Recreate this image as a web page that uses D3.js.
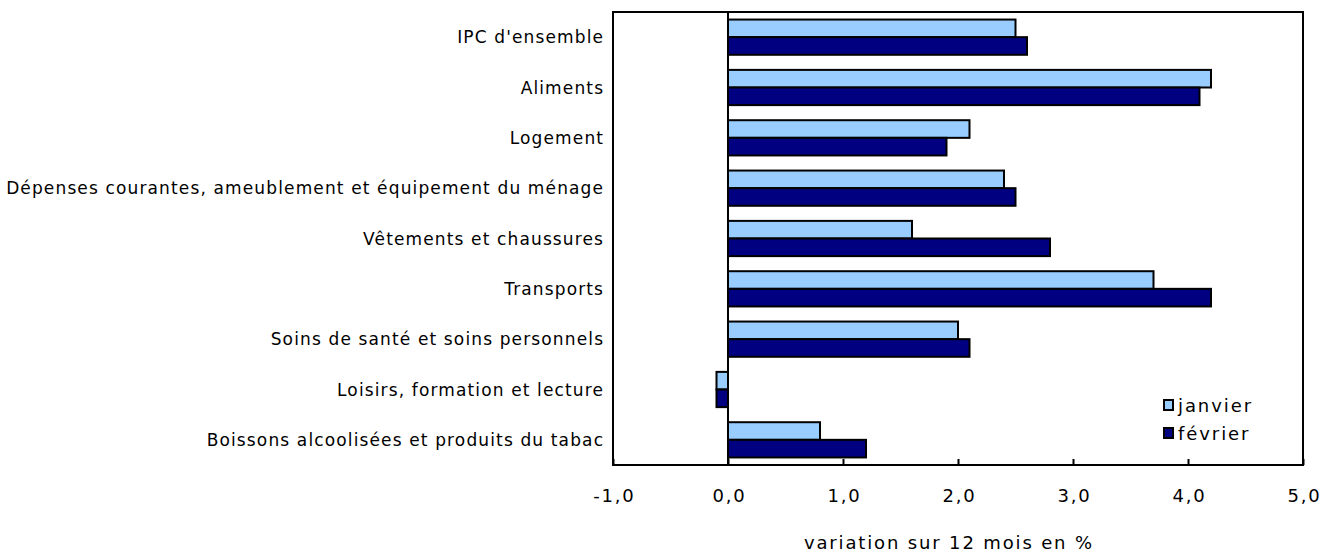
<!DOCTYPE html>
<html><head><meta charset="utf-8">
<script src="https://cdn.jsdelivr.net/npm/d3@7"></script>
<style>body{margin:0;background:#fff}svg{display:block}</style>
</head><body>
<script>
const categories = ["IPC d'ensemble","Aliments","Logement","Dépenses courantes, ameublement et équipement du ménage","Vêtements et chaussures","Transports","Soins de santé et soins personnels","Loisirs, formation et lecture","Boissons alcoolisées et produits du tabac"];
const janvier = [2.5,4.2,2.1,2.4,1.6,3.7,2.0,-0.1,0.8];
const fevrier = [2.6,4.1,1.9,2.5,2.8,4.2,2.1,-0.1,1.2];
const seriesNames = ["janvier","février"];
const xTicks = [-1,0,1,2,3,4,5];
const xTitle = "variation sur 12 mois en %";

const W=1322,H=552;
const m={l:613,t:12,r:1303,b:465};
const font="DejaVu Sans, Verdana, sans-serif";
const svg=d3.select("body").append("svg").attr("width",W).attr("height",H);
const x=d3.scaleLinear().domain([-1,5]).range([m.l,m.r]);
const y=d3.scaleBand().domain(categories).range([m.t,m.b]).paddingInner(0.3).paddingOuter(0.15);
const ys=d3.scaleBand().domain(seriesNames).range([0,y.bandwidth()]);
const colors=["#99CCFF","#000080"];
const data=[janvier,fevrier];

// letter-spacing to fit a text to a target width
function fitSpacing(str,size,target){
  const t=svg.append("text").attr("font-family",font).attr("font-size",size).text(str);
  const w=t.node().getComputedTextLength(); t.remove();
  return (target-w)/str.length;
}

// bars
data.forEach((vals,si)=>{
  svg.append("g").selectAll("rect").data(vals).join("rect")
    .attr("x",d=>x(Math.min(0,d)))
    .attr("width",d=>Math.abs(x(d)-x(0)))
    .attr("y",(d,i)=>y(categories[i])+ys(seriesNames[si]))
    .attr("height",ys.bandwidth())
    .attr("fill",colors[si]).attr("stroke","#000").attr("stroke-width",2);
});
// zero line
svg.append("line").attr("x1",x(0)).attr("x2",x(0)).attr("y1",m.t).attr("y2",m.b).attr("stroke","#000").attr("stroke-width",2);
// frame
svg.append("rect").attr("x",m.l).attr("y",m.t).attr("width",m.r-m.l).attr("height",m.b-m.t).attr("fill","none").attr("stroke","#000").attr("stroke-width",2);
// x axis
const tickLS=fitSpacing("0,0",18,34);
const ax=svg.append("g").attr("transform",`translate(0,${m.b})`)
  .call(d3.axisBottom(x).tickValues(xTicks).tickSize(-6).tickPadding(24).tickFormat(d=>d3.format(".1f")(d).replace(".",",").replace("\u2212","-")));
ax.select(".domain").remove();
ax.selectAll("line").attr("stroke","#000").attr("stroke-width",2);
ax.selectAll("text").attr("font-family",font).attr("font-size",18).attr("fill","#000").attr("letter-spacing",tickLS)
  .attr("dx",tickLS/2);

// category labels
const catLS=fitSpacing(categories[3],17,598);
svg.append("g").selectAll("text").data(categories).join("text")
  .attr("x",603+catLS).attr("y",d=>y(d)+y.bandwidth()/2+6)
  .attr("text-anchor","end").attr("font-family",font).attr("font-size",17).attr("letter-spacing",catLS).attr("fill","#000").text(d=>d);

// title
const titleLS=fitSpacing(xTitle,18,290);
svg.append("text").attr("x",948+titleLS/2).attr("y",549).attr("text-anchor","middle").attr("font-family",font).attr("font-size",18).attr("letter-spacing",titleLS).text(xTitle);

// legend
const legLS=fitSpacing("janvier",18,75);
const lg=svg.append("g");
seriesNames.forEach((s,i)=>{
  lg.append("rect").attr("x",1164).attr("y",400+i*28).attr("width",9).attr("height",10).attr("fill",colors[i]).attr("stroke","#000").attr("stroke-width",2);
  lg.append("text").attr("x",1178).attr("y",412+i*28).attr("font-family",font).attr("font-size",18).attr("letter-spacing",legLS).text(s);
});
</script>
</body></html>
